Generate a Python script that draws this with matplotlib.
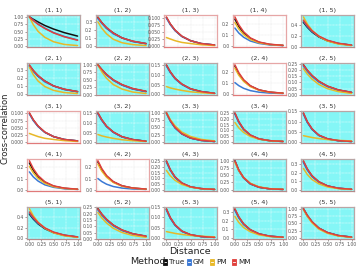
import numpy as np
import matplotlib
matplotlib.use("Agg")
import matplotlib.pyplot as plt
from matplotlib.patches import Rectangle
from matplotlib.lines import Line2D

# ---------------- data ----------------
distance = [0.0, 0.08, 0.18, 0.32, 0.5, 0.72, 1.0]
methods = ["True", "GM", "PM", "MM"]
panel_labels = [f"({i}, {j})" for i in range(1, 6) for j in range(1, 6)]
highlight = [1, 1, 0, 0, 1,
             1, 1, 1, 0, 1,
             0, 1, 1, 1, 1,
             0, 0, 1, 1, 1,
             1, 1, 1, 1, 1]
tick_step = [0.25, 0.1, 0.025, 0.1, 0.2,
             0.1, 0.25, 0.05, 0.1, 0.05,
             0.025, 0.05, 0.25, 0.05, 0.05,
             0.1, 0.1, 0.05, 0.25, 0.1,
             0.2, 0.05, 0.05, 0.1, 0.25]

true_vals = [
    [1.00, 0.92, 0.83, 0.71, 0.59, 0.47, 0.35],
    [0.35, 0.29, 0.22, 0.16, 0.10, 0.058, 0.029],
    [0.100, 0.077, 0.055, 0.034, 0.019, 0.009, 0.004],
    [0.24, 0.174, 0.117, 0.067, 0.032, 0.013, 0.004],
    [0.45, 0.36, 0.27, 0.18, 0.108, 0.058, 0.026],
    [0.35, 0.29, 0.22, 0.16, 0.10, 0.058, 0.029],
    [1.00, 0.84, 0.67, 0.49, 0.33, 0.20, 0.11],
    [0.15, 0.115, 0.082, 0.052, 0.028, 0.014, 0.005],
    [0.25, 0.18, 0.12, 0.07, 0.034, 0.014, 0.0045],
    [0.24, 0.196, 0.153, 0.108, 0.069, 0.040, 0.020],
    [0.100, 0.077, 0.055, 0.034, 0.019, 0.009, 0.004],
    [0.15, 0.115, 0.082, 0.052, 0.028, 0.014, 0.005],
    [1.00, 0.73, 0.49, 0.28, 0.135, 0.056, 0.018],
    [0.25, 0.175, 0.11, 0.058, 0.025, 0.010, 0.003],
    [0.14, 0.098, 0.062, 0.032, 0.014, 0.0056, 0.0015],
    [0.24, 0.174, 0.117, 0.067, 0.032, 0.013, 0.004],
    [0.25, 0.18, 0.12, 0.07, 0.034, 0.014, 0.0045],
    [0.25, 0.175, 0.11, 0.058, 0.025, 0.010, 0.003],
    [1.00, 0.67, 0.41, 0.20, 0.082, 0.027, 0.007],
    [0.33, 0.24, 0.16, 0.092, 0.045, 0.018, 0.006],
    [0.45, 0.36, 0.27, 0.18, 0.108, 0.058, 0.026],
    [0.24, 0.196, 0.153, 0.108, 0.069, 0.040, 0.020],
    [0.14, 0.098, 0.062, 0.032, 0.014, 0.0056, 0.0015],
    [0.33, 0.24, 0.16, 0.092, 0.045, 0.018, 0.006],
    [1.00, 0.77, 0.55, 0.34, 0.19, 0.09, 0.036],
]
gm_vals = [
    [1.00, 0.89, 0.76, 0.62, 0.47, 0.34, 0.22],
    [0.34, 0.28, 0.22, 0.15, 0.10, 0.056, 0.028],
    [0.098, 0.075, 0.054, 0.034, 0.019, 0.009, 0.004],
    [0.16, 0.116, 0.078, 0.044, 0.022, 0.009, 0.003],
    [0.47, 0.374, 0.281, 0.188, 0.113, 0.060, 0.027],
    [0.34, 0.28, 0.22, 0.15, 0.10, 0.056, 0.028],
    [0.99, 0.83, 0.66, 0.48, 0.32, 0.19, 0.10],
    [0.147, 0.113, 0.080, 0.051, 0.027, 0.013, 0.005],
    [0.10, 0.073, 0.049, 0.028, 0.014, 0.006, 0.002],
    [0.23, 0.188, 0.147, 0.103, 0.066, 0.038, 0.019],
    [0.098, 0.075, 0.054, 0.034, 0.019, 0.009, 0.004],
    [0.147, 0.113, 0.080, 0.051, 0.027, 0.013, 0.005],
    [0.99, 0.72, 0.48, 0.275, 0.133, 0.055, 0.018],
    [0.245, 0.171, 0.108, 0.057, 0.025, 0.010, 0.003],
    [0.137, 0.096, 0.061, 0.031, 0.014, 0.0055, 0.0015],
    [0.16, 0.116, 0.078, 0.044, 0.022, 0.009, 0.003],
    [0.10, 0.073, 0.049, 0.028, 0.014, 0.006, 0.002],
    [0.245, 0.171, 0.108, 0.057, 0.025, 0.010, 0.003],
    [0.99, 0.66, 0.40, 0.197, 0.081, 0.027, 0.007],
    [0.32, 0.233, 0.155, 0.089, 0.044, 0.018, 0.006],
    [0.47, 0.374, 0.281, 0.188, 0.113, 0.060, 0.027],
    [0.23, 0.188, 0.147, 0.103, 0.066, 0.038, 0.019],
    [0.137, 0.096, 0.061, 0.031, 0.014, 0.0055, 0.0015],
    [0.32, 0.233, 0.155, 0.089, 0.044, 0.018, 0.006],
    [0.99, 0.76, 0.545, 0.337, 0.188, 0.089, 0.036],
]
pm_vals = [
    [1.00, 0.74, 0.51, 0.31, 0.16, 0.07, 0.03],
    [0.30, 0.22, 0.15, 0.083, 0.040, 0.017, 0.005],
    [0.030, 0.025, 0.019, 0.013, 0.009, 0.005, 0.002],
    [0.21, 0.152, 0.102, 0.058, 0.028, 0.012, 0.004],
    [0.55, 0.42, 0.30, 0.19, 0.104, 0.05, 0.02],
    [0.33, 0.24, 0.16, 0.092, 0.045, 0.018, 0.006],
    [1.00, 0.77, 0.55, 0.34, 0.19, 0.09, 0.04],
    [0.040, 0.033, 0.027, 0.020, 0.013, 0.008, 0.004],
    [0.23, 0.167, 0.112, 0.064, 0.031, 0.013, 0.004],
    [0.21, 0.167, 0.126, 0.084, 0.050, 0.027, 0.012],
    [0.030, 0.025, 0.019, 0.013, 0.009, 0.005, 0.002],
    [0.040, 0.033, 0.027, 0.020, 0.013, 0.008, 0.004],
    [1.00, 0.77, 0.55, 0.34, 0.19, 0.09, 0.036],
    [0.17, 0.123, 0.083, 0.047, 0.023, 0.0095, 0.003],
    [0.030, 0.026, 0.021, 0.016, 0.011, 0.007, 0.004],
    [0.21, 0.152, 0.102, 0.058, 0.028, 0.012, 0.004],
    [0.23, 0.167, 0.112, 0.064, 0.031, 0.013, 0.004],
    [0.17, 0.123, 0.083, 0.047, 0.023, 0.0095, 0.003],
    [0.95, 0.66, 0.42, 0.22, 0.095, 0.034, 0.010],
    [0.25, 0.18, 0.12, 0.07, 0.034, 0.014, 0.0045],
    [0.55, 0.42, 0.30, 0.19, 0.104, 0.05, 0.02],
    [0.21, 0.167, 0.126, 0.084, 0.050, 0.027, 0.012],
    [0.030, 0.026, 0.021, 0.016, 0.011, 0.007, 0.004],
    [0.25, 0.18, 0.12, 0.07, 0.034, 0.014, 0.0045],
    [0.98, 0.74, 0.52, 0.31, 0.165, 0.075, 0.028],
]
mm_vals = [
    [1.00, 0.88, 0.75, 0.61, 0.46, 0.33, 0.21],
    [0.36, 0.29, 0.23, 0.16, 0.10, 0.060, 0.030],
    [0.102, 0.078, 0.056, 0.035, 0.019, 0.009, 0.004],
    [0.26, 0.19, 0.127, 0.072, 0.035, 0.015, 0.005],
    [0.49, 0.39, 0.293, 0.196, 0.118, 0.063, 0.028],
    [0.36, 0.29, 0.23, 0.16, 0.10, 0.060, 0.030],
    [1.00, 0.85, 0.68, 0.50, 0.34, 0.21, 0.115],
    [0.152, 0.117, 0.083, 0.053, 0.029, 0.014, 0.005],
    [0.26, 0.19, 0.127, 0.072, 0.035, 0.015, 0.005],
    [0.24, 0.198, 0.156, 0.110, 0.071, 0.041, 0.021],
    [0.102, 0.078, 0.056, 0.035, 0.019, 0.009, 0.004],
    [0.152, 0.117, 0.083, 0.053, 0.029, 0.014, 0.005],
    [1.00, 0.74, 0.50, 0.285, 0.138, 0.057, 0.019],
    [0.255, 0.179, 0.113, 0.060, 0.026, 0.010, 0.003],
    [0.143, 0.100, 0.064, 0.033, 0.015, 0.0058, 0.0016],
    [0.26, 0.19, 0.127, 0.072, 0.035, 0.015, 0.005],
    [0.26, 0.19, 0.127, 0.072, 0.035, 0.015, 0.005],
    [0.255, 0.179, 0.113, 0.060, 0.026, 0.010, 0.003],
    [1.00, 0.68, 0.42, 0.205, 0.084, 0.028, 0.007],
    [0.34, 0.247, 0.165, 0.095, 0.046, 0.019, 0.006],
    [0.49, 0.39, 0.293, 0.196, 0.118, 0.063, 0.028],
    [0.24, 0.198, 0.156, 0.110, 0.071, 0.041, 0.021],
    [0.143, 0.100, 0.064, 0.033, 0.015, 0.0058, 0.0016],
    [0.34, 0.247, 0.165, 0.095, 0.046, 0.019, 0.006],
    [1.00, 0.78, 0.56, 0.345, 0.192, 0.092, 0.037],
]
x_ticks = [0.0, 0.25, 0.5, 0.75, 1.0]

# ---------------- style ----------------
colors = {"True": "#111111", "GM": "#3A78D4", "PM": "#E8B828", "MM": "#E0403C"}
series = {"True": true_vals, "GM": gm_vals, "PM": pm_vals, "MM": mm_vals}
cyan = "#84F6F6"

W, H = 360, 270
fig = plt.figure(figsize=(W / 100, H / 100), dpi=100)
fig.patch.set_facecolor("white")

left0, xstep, pw = 27, 68.5, 53
top0, ystep, ph = 15.5, 47.95, 31.5


def fmt_tick(v, step):
    s = f"{step:.10f}".rstrip("0")
    dec = len(s.split(".")[1]) if "." in s else 0
    dec = max(dec, 1)
    return f"{v:.{dec}f}"


for k in range(25):
    r, c = divmod(k, 5)
    x0 = left0 + c * xstep
    y0 = top0 + r * ystep
    ax = fig.add_axes([x0 / W, 1 - (y0 + ph) / H, pw / W, ph / H])
    hl = highlight[k]
    ax.set_facecolor(cyan if hl else "white")
    for m in methods:
        ax.plot(distance, series[m][k], color=colors[m], lw=1.1,
                solid_capstyle="round", zorder=3)
    allv = np.concatenate([np.array(series[m][k]) for m in methods])
    lo, hi = allv.min(), allv.max()
    rng = hi - lo
    ax.set_ylim(lo - 0.05 * rng, hi + 0.05 * rng)
    ax.set_xlim(-0.05, 1.05)
    st = tick_step[k]
    yt = np.arange(0, hi + 0.05 * rng + 1e-9, st)
    ax.set_yticks(yt)
    ax.set_yticklabels([fmt_tick(v, st) for v in yt])
    ax.set_xticks(x_ticks)
    if r == 4:
        ax.set_xticklabels([f"{v:.2f}" for v in x_ticks])
    else:
        ax.set_xticklabels([])
    ax.tick_params(axis="both", labelsize=3.3, length=1.3, width=0.4,
                   colors="#555555", pad=0.8)
    ax.tick_params(axis="x", length=1.3 if r == 4 else 0)
    ax.grid(True, color="white" if hl else "#E6E6E6", lw=0.35, ls=(0, (2, 1)))
    ax.set_axisbelow(True)
    for sp in ax.spines.values():
        sp.set_color("#B9A6A6" if hl else "#E6A6A6")
        sp.set_linewidth(0.9)
    ax.spines["bottom"].set_color("#B58A8A" if hl else "#E07A7A")
    ax.set_title(panel_labels[k], fontsize=4.6, color="#333333", pad=2.5)

fig.text(5.5 / W, 1 - 128 / H, "Cross-correlation", rotation=90, ha="center",
         va="center", fontsize=6.0, color="#222222")
fig.text(190 / W, 1 - 252 / H, "Distance", ha="center", va="center",
         fontsize=6.8, color="#222222")

# legend
ly = 262
fig.text(148 / W, 1 - ly / H, "Method", ha="center", va="center",
         fontsize=6.8, color="#222222")
key_x = [163, 187, 210, 232]
for m, kx in zip(methods, key_x):
    fig.patches.append(Rectangle((kx / W, 1 - (ly + 3) / H), 4 / W, 6 / H,
                                 transform=fig.transFigure, facecolor=colors[m],
                                 edgecolor=colors[m], lw=0.6))
    fig.lines.append(Line2D([(kx + 0.8) / W, (kx + 3.2) / W],
                            [1 - ly / H, 1 - ly / H], transform=fig.transFigure,
                            color="white", lw=0.6))
    fig.text((kx + 6) / W, 1 - ly / H, m, ha="left", va="center",
             fontsize=5.2, color="#222222")

fig.savefig("out.png", dpi=100)
